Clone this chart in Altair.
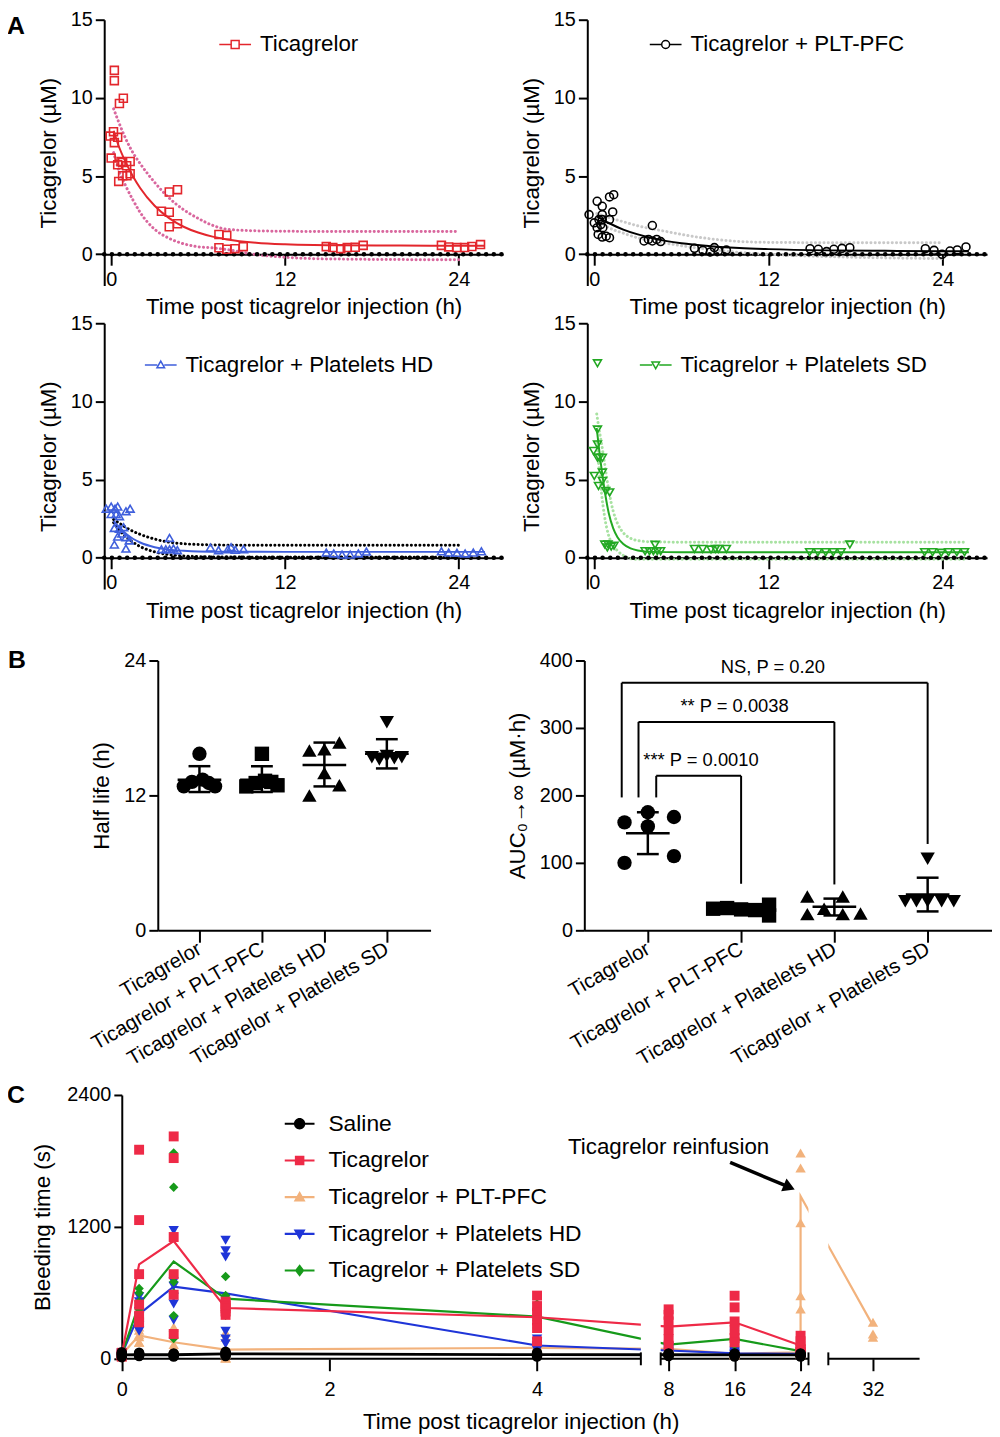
import altair as alt
import pandas as pd

W, H = 992, 1429
FONT = "Liberation Sans"

def X(px): return px - 6
def YA(py): return py - 3
def YB(py): return py - 5
def YC(py): return py - 7

# ---------------- Panel A data ----------------
a1_t = [0.22,0.22,0.57,0.84,0.16,-0.07,0.22,0.45,0.0,0.45,0.68,1.07,1.31,0.79,1.09,1.31,0.52,0.79,
        4.01,4.58,3.47,4.01,4.01,4.58, 7.44,7.98,7.44,7.98,8.55,9.12,
        14.85,15.3,15.85,16.3,16.85,17.4, 22.8,23.3,23.87,24.4,24.9,25.5]
a1_c = [11.76,11.1,9.64,9.98,7.84,7.56,7.14,7.48,6.15,5.72,5.93,5.66,5.93,5.02,5.02,5.15,4.66,5.87,
        3.98,4.13,2.75,2.69,1.76,1.95, 1.27,1.21,0.42,0.32,0.36,0.49,
        0.49,0.43,0.36,0.43,0.45,0.57, 0.57,0.47,0.43,0.43,0.5,0.62]
a1_fit_t = [0.17,0.5,1,1.5,2,3,4,5,6,7,8,10,12,14,16,20,24,25.8]
a1_fit_c = [7.9,6.97,5.89,4.99,4.24,3.10,2.31,1.76,1.39,1.13,0.95,0.74,0.64,0.59,0.57,0.555,0.55,0.55]
a1_band_t = [0.17,0.5,1,1.5,2,3,4,5,6,7,8,10,12,14,16,20,24]
a1_up = [9.3,8.5,7.4,6.5,5.8,4.6,3.6,2.85,2.3,1.85,1.6,1.5,1.47,1.46,1.45,1.45,1.45]
a1_lo = [6.5,5.44,4.38,3.48,2.68,1.6,1.02,0.67,0.48,0.41,0.3,-0.02,-0.19,-0.28,-0.31,-0.34,-0.35]

a2_t = [-0.36,0.2,0.55,1.05,1.34,1.27,0.55,0.0,0.32,0.55,1.05,0.2,0.59,0.27,0.55,0.82,1.05,0.45,
        4.0,3.43,3.73,4.0,4.3,4.57, 6.9,7.48,8.27,8.0,8.54,9.1,
        14.86,15.43,16.0,16.5,17.06,17.6, 22.8,23.4,23.95,24.5,25.0,25.6]
a2_c = [2.54,3.39,3.07,3.67,3.81,2.71,2.54,2.01,2.22,2.22,2.22,1.7,1.7,1.27,1.1,1.16,1.06,1.9,
        1.84,0.85,0.95,0.85,0.95,0.81, 0.38,0.25,0.43,0.15,0.21,0.27,
        0.36,0.32,0.17,0.32,0.38,0.42, 0.36,0.25,0.0,0.21,0.28,0.47]
a2_fit_t = [0.17,1,2,3,4,5,6,8,10,12,16,20,24,25.8]
a2_fit_c = [2.43,2.0,1.58,1.27,1.03,0.84,0.70,0.52,0.40,0.33,0.25,0.22,0.2,0.2]
a2_band_t = [0.17,1,2,3,4,5,6,8,10,12,16,20,24]
a2_up = [2.6,2.35,2.08,1.82,1.62,1.45,1.27,0.99,0.82,0.76,0.74,0.74,0.74]
a2_lo = [2.2,1.7,1.35,1.05,0.85,0.7,0.55,0.3,0.12,0.0,-0.15,-0.23,-0.28]

a3_t = [-0.34,0.0,0.27,0.45,0.0,0.34,0.57,1.02,1.31,0.22,0.57,0.86,0.45,1.02,1.25,0.22,1.02,0.73,
        4.03,3.47,3.77,4.03,4.3,4.57, 6.85,7.41,8.05,8.28,8.57,9.14,
        14.85,15.37,15.94,16.5,17.07,17.62, 22.8,23.3,23.87,24.44,25.0,25.56]
a3_c = [3.14,3.28,3.14,3.28,2.8,2.8,2.66,2.98,3.14,1.91,1.85,1.96,1.36,1.32,1.11,0.85,0.59,1.55,
        1.27,0.55,0.55,0.55,0.59,0.49, 0.66,0.49,0.55,0.68,0.51,0.55,
        0.34,0.28,0.21,0.21,0.28,0.4, 0.42,0.34,0.32,0.28,0.34,0.42]
a3_fit_t = [0.17,0.5,1,1.5,2,3,4,5,6,8,12,16,24,25.8]
a3_fit_c = [2.35,2.0,1.55,1.22,0.98,0.68,0.52,0.45,0.41,0.39,0.38,0.38,0.38,0.38]
a3_band_t = [0.17,0.5,1,1.5,2,3,4,5,6,8,12,16,24]
a3_up = [2.45,2.25,1.95,1.7,1.5,1.2,1.0,0.9,0.85,0.81,0.8,0.8,0.8]
a3_lo = [2.25,1.85,1.35,1.0,0.72,0.38,0.2,0.12,0.08,0.05,0.04,0.04,0.04]

a4_t = [0.22,0.22,0.22,-0.05,0.34,0.56,0.22,0.56,0.56,0.0,0.29,0.79,1.06,0.72,0.95,1.17,0.9,1.36,
        3.5,3.8,4.07,4.19,4.34,4.57, 6.9,7.47,8.04,8.34,8.56,9.1,
        14.83,15.4,15.94,16.46,17.0,17.6, 22.75,23.3,23.9,24.4,24.97,25.5]
a4_c = [12.44,8.2,7.25,6.83,6.4,6.4,6.4,5.45,4.92,5.24,4.6,4.28,4.18,0.85,0.85,0.72,0.66,0.78,
        0.42,0.42,0.42,0.83,0.42,0.42, 0.57,0.57,0.53,0.57,0.57,0.57,
        0.36,0.36,0.36,0.36,0.36,0.85, 0.36,0.36,0.32,0.36,0.36,0.36]
a4_fit_t = [0.17,0.3,0.5,0.7,1.0,1.3,1.6,2.0,2.5,3,4,6,12,24,25.8]
a4_fit_c = [8.3,7.2,5.7,4.4,2.85,1.9,1.32,0.88,0.6,0.47,0.38,0.35,0.35,0.35,0.35]
a4_band_t = [0.17,0.3,0.5,0.7,1.0,1.3,1.6,2.0,2.5,3,4,6,12,24,25.7]
a4_up = [9.2,8.4,7.3,6.1,4.3,3.0,2.2,1.6,1.25,1.1,1.02,1.0,1.0,1.0,1.0]
a4_lo = [7.4,6.0,4.1,2.7,1.4,0.8,0.45,0.15,-0.05,-0.1,-0.1,-0.1,-0.1,-0.1,-0.1]

# ---------------- Panel B data ----------------
b_groups = ["Ticagrelor", "Ticagrelor + PLT-PFC", "Ticagrelor + Platelets HD", "Ticagrelor + Platelets SD"]
b_shapes = ["circle", "square", "triangle-up", "triangle-down"]
hl_vals = [[12.8,13.2,15.7,13.4,13.1,12.8],[12.8,13.1,15.7,13.3,13.2,12.9],
           [16.0,16.1,16.7,14.0,12.0,12.9],[18.5,15.4,15.2,15.5,15.3,15.4]]
hl_jit = [[-0.25,-0.12,0.0,0.05,0.15,0.25],[-0.25,-0.1,0.0,0.05,0.15,0.25],
          [-0.24,0.0,0.24,0.0,-0.24,0.24],[0.0,-0.24,-0.12,0.0,0.12,0.24]]
hl_mean = [13.4,13.4,14.7,15.7]
hl_lo = [12.3,12.3,12.8,14.4]
hl_hi = [14.6,14.6,16.7,17.0]

auc_vals = [[160,175,154,168,100,110],[32,33,31,30,38,22],[50,24,32,50,24,25],[106,43,43,43,43,43]]
auc_jit = [[-0.25,0.0,0.0,0.28,-0.25,0.28],[-0.3,-0.15,0.0,0.15,0.3,0.3],
           [-0.29,-0.29,-0.11,0.09,0.09,0.28],[0.0,-0.24,-0.12,0.0,0.15,0.28]]
auc_mean = [144,32,35,53]
auc_lo = [113,27,22,28]
auc_hi = [175,37,47,78]

br_x_left = [-0.28,-0.1,0.09]
br_x_right = [3.0,2.0,1.0]
br_top = [367,309,229]
br_left_bottom = [197,197,197]
br_right_bottom = [128,68,69]
br_text = ["NS, P = 0.20", "** P = 0.0038", "*** P = 0.0010"]
br_text_x = [1.34,0.93,0.57]
br_text_y = [391,332,253]

# ---------------- Panel C data ----------------
c_times = [0, 0.167, 0.5, 1, 4, 8, 16, 24]
c_groups = ["Saline", "Ticagrelor", "Ticagrelor + PLT-PFC", "Ticagrelor + Platelets HD", "Ticagrelor + Platelets SD"]
c_colors = ["#000000", "#EE2A47", "#F2B27C", "#1F35D8", "#169A1A"]
c_shapes = ["circle", "square", "triangle-up", "triangle-down", "diamond"]
c_sizes = [110, 100, 110, 110, 90]
sal_pts = [[15,25,35,40,50,60],[25,30,40,45,50,55],[20,30,35,40,45,50],[25,35,45,50,55,65],
           [20,30,35,40,45,55],[25,30,35,40,45,50],[20,30,35,40,45,50],[20,30,35,40,45,50]]
tic_pts = [[20,30,40,45,50,55],[1902,1262,770,493,393,332],[2023,1826,1108,770,583,226],
           [520,500,480,460,430,400],[575,480,420,350,280,160],[450,400,340,260,180,120],
           [574,468,340,260,190,150],[210,160,120,90,80,60]]
pfc_pts = [[20,30,40,45,50,55],[290,260,220,200,150,150],[290,230,130,100,90,66],
           [242,197,40,10,10,5],[130,120,100,95,90,70],[120,100,90,85,80,70],
           [60,50,45,40,40,35],[80,70,60,55,50,45]]
pfc_post_t = [24,24,24,24,24,32,32,32]
pfc_post_v = [1872,1736,1238,574,453,332,226,196]
hd_pts = [[20,30,40,45,50,55],[565,520,430,380,300,250],[1168,700,660,560,498,350],
          [1078,982,927,250,180,136],[180,150,120,110,90,76],[110,90,80,70,60,46],
          [70,60,50,45,40,35],[65,55,45,40,35,30]]
sd_pts = [[20,30,40,45,50,55],[640,600,520,450,420,360],[1872,1561,700,600,393,185],
          [749,577,560,520,480,396],[500,450,400,350,320,280],[200,160,130,110,100,80],
          [260,220,180,160,140,126],[90,80,70,65,60,55]]
sal_line = [35,38,37,46,38,37,36,36]
tic_line = [40,860,1072,462,378,293,332,121]
pfc_line_t = [0,0.167,0.5,1,4,8,16,24,24,32]
pfc_line = [40,212,151,84,100,91,45,60,1480,302]
hd_line = [40,407,656,595,121,76,50,45]
sd_line = [40,498,885,547,384,130,181,70]
c_break_start = [0, 7.04, 26.59]
c_break_end = [5.0, 24.96, 37.65]
arrow_t = [15.46, 22.63]
arrow_v = [1786, 1561]


def axis(orient, offset, values, title, tick, **kw):
    base = dict(orient=orient, offset=offset, values=values, title=title, grid=False,
                tickSize=tick, tickWidth=2, domainWidth=2, domainColor="black", tickColor="black",
                labelColor="black", titleColor="black", labelFontSize=20, titleFontSize=22.5,
                titleFontWeight="normal", labelFlush=False, labelOverlap=False, labelLimit=400)
    base.update(kw)
    return alt.Axis(**base)


def letter_layer(ch, px, py):
    return alt.Chart(pd.DataFrame({"l": [ch]})).mark_text(
        fontSize=25, fontWeight="bold", align="center", baseline="middle", color="black"
    ).encode(text="l:N", x=alt.value(px), y=alt.value(py))


def panel_a(name, t, c, fit_t, fit_c, band_t, up, lo, color, band_color, shape, lpath,
            px0, px1, pytop, pybot, lx, ly, letter=None):
    xs = alt.Scale(domain=[-0.48, 27.05], range=[X(px0), X(px1)], nice=False, zero=False)
    ys = alt.Scale(domain=[-2, 15], range=[YA(pybot), YA(pytop)], nice=False, zero=False)
    y0 = pybot - 2 * (pybot - pytop) / 17
    xa = axis("bottom", YA(y0) - H, [0, 12, 24], "Time post ticagrelor injection (h)", 11,
              labelPadding=4, titlePadding=7)
    ya = axis("left", -X(px0), [0, 5, 10, 15], "Ticagrelor (µM)", 9, labelPadding=3, titlePadding=10)
    ex = lambda f: alt.X(f, type="quantitative", scale=xs, axis=xa)
    ey = lambda f: alt.Y(f, type="quantitative", scale=ys, axis=ya)

    band = pd.DataFrame({"t": band_t, "up": up, "lo": lo})
    fit = pd.DataFrame({"t": fit_t, "c": fit_c})
    pts = pd.DataFrame({"t": t, "c": c})
    base = pd.DataFrame({"x0": [-0.48], "x1": [27.05], "y": [0]})
    dot = dict(color=band_color, strokeWidth=3, strokeDash=[0.1, 4.2], strokeCap="round", interpolate="monotone")
    layers = [
        alt.Chart(band).mark_line(**dot).encode(x=ex("t"), y=ey("up")),
        alt.Chart(band).mark_line(**dot).encode(x=ex("t"), y=ey("lo")),
        alt.Chart(fit).mark_line(color=color, strokeWidth=2, interpolate="monotone").encode(x=ex("t"), y=ey("c")),
        alt.Chart(base).mark_rule(color="black", strokeWidth=4.5, strokeDash=[0.1, 7.6], strokeCap="round")
            .encode(x=ex("x0"), x2="x1", y=ey("y")),
        alt.Chart(pts).mark_point(shape=shape, filled=False, color=color, size=64, strokeWidth=1.6, opacity=1)
            .encode(x=ex("t"), y=ey("c")),
    ]
    leg = alt.Legend(title=None, orient="none", legendX=X(lx), legendY=YA(ly) - 16, symbolSize=1024,
                     symbolStrokeWidth=1.5, labelFontSize=22.5, labelOffset=8, labelColor="black",
                     padding=0, labelLimit=500)
    layers.append(
        alt.Chart(pd.DataFrame({"series": pd.Series([], dtype=str)})).mark_point(filled=False, opacity=1, strokeWidth=1.5)
        .encode(color=alt.Color("series:N", scale=alt.Scale(domain=[name], range=[color]), legend=leg),
                shape=alt.Shape("series:N", scale=alt.Scale(domain=[name], range=[lpath]), legend=leg))
    )
    if letter:
        layers.append(letter_layer(letter, X(14), YA(15)))
    return alt.layer(*layers)


def panel_b(vals, jit, means, lo, hi, ydomain, yvalues, ytitle, px0, px1, xdomain, extra=None, letter=None):
    xs = alt.Scale(domain=xdomain, range=[X(px0), X(px1)], nice=False, zero=False)
    ys = alt.Scale(domain=ydomain, range=[YB(929), YB(657)], nice=False, zero=False)
    names = "[" + ",".join("'%s'" % g for g in b_groups) + "]"
    xa = axis("bottom", YB(929) - H, [0, 1, 2, 3], None, 12, labelExpr=names + "[datum.value]",
              labelAngle=-30, labelAlign="right", labelBaseline="middle", labelFontSize=20.5, labelPadding=5)
    ya = axis("left", -X(px0), yvalues, ytitle, 9, labelPadding=3, titlePadding=10)
    ex = lambda f: alt.X(f, type="quantitative", scale=xs, axis=xa)
    ey = lambda f: alt.Y(f, type="quantitative", scale=ys, axis=ya)

    rows = []
    for gi, g in enumerate(b_groups):
        for v, j in zip(vals[gi], jit[gi]):
            rows.append({"grp": g, "x": gi + j, "v": v})
    pts = pd.DataFrame(rows)
    summ = pd.DataFrame({"g": list(range(4)), "mean": means, "lo": lo, "hi": hi})
    layers = [
        alt.Chart(summ).mark_rule(color="black", strokeWidth=2.5).encode(x=ex("g"), y=ey("lo"), y2="hi"),
        alt.Chart(summ).mark_tick(orient="horizontal", size=22, thickness=2.5, color="black", opacity=1)
            .encode(x=ex("g"), y=ey("lo")),
        alt.Chart(summ).mark_tick(orient="horizontal", size=22, thickness=2.5, color="black", opacity=1)
            .encode(x=ex("g"), y=ey("hi")),
        alt.Chart(pts).mark_point(filled=True, color="black", size=210, opacity=1)
            .encode(x=ex("x"), y=ey("v"),
                    shape=alt.Shape("grp:N", scale=alt.Scale(domain=b_groups, range=b_shapes), legend=None)),
        alt.Chart(summ).mark_tick(orient="horizontal", size=44, thickness=2.5, color="black", opacity=1)
            .encode(x=ex("g"), y=ey("mean")),
    ]
    if extra:
        layers += extra(ex, ey)
    if letter:
        layers.append(letter_layer(letter, X(15), YB(657)))
    return alt.layer(*layers)


def brackets(ex, ey):
    segs = []
    for i in range(3):
        segs.append({"x": br_x_left[i], "x2": br_x_left[i], "y": br_left_bottom[i], "y2": br_top[i]})
        segs.append({"x": br_x_left[i], "x2": br_x_right[i], "y": br_top[i], "y2": br_top[i]})
        segs.append({"x": br_x_right[i], "x2": br_x_right[i], "y": br_top[i], "y2": br_right_bottom[i]})
    sdf = pd.DataFrame(segs)
    tdf = pd.DataFrame({"x": br_text_x, "y": br_text_y, "txt": br_text})
    return [
        alt.Chart(sdf).mark_rule(color="black", strokeWidth=2).encode(x=ex("x"), x2="x2", y=ey("y"), y2="y2"),
        alt.Chart(tdf).mark_text(fontSize=18.5, color="black", align="center", baseline="middle")
            .encode(x=ex("x"), y=ey("y"), text="txt:N"),
    ]


def panel_c():
    xs = alt.Scale(domain=[0, 5.0, 7.04, 24.96, 26.59, 37.65],
                   range=[X(120.7), X(644), X(664), X(813), X(833), X(925)], nice=False, zero=False)
    ys = alt.Scale(domain=[0, 2400], range=[YC(1363), YC(1097)], nice=False, zero=False)
    xa = axis("bottom", YC(1363) - H, [0, 2, 4, 8, 16, 24, 32], "Time post ticagrelor injection (h)", 12,
              domain=False, labelPadding=9, titlePadding=11)
    ya = axis("left", -X(120.7), [0, 1200, 2400], "Bleeding time (s)", 8, labelPadding=3, titlePadding=12,
              format="d")
    ex = lambda f: alt.X(f, type="quantitative", scale=xs, axis=xa)
    ey = lambda f: alt.Y(f, type="quantitative", scale=ys, axis=ya)

    line_series = {
        "Saline": (c_times, sal_line), "Ticagrelor": (c_times, tic_line),
        "Ticagrelor + PLT-PFC": (pfc_line_t, pfc_line),
        "Ticagrelor + Platelets HD": (c_times, hd_line), "Ticagrelor + Platelets SD": (c_times, sd_line),
    }
    pts_series = {"Saline": sal_pts, "Ticagrelor": tic_pts, "Ticagrelor + PLT-PFC": pfc_pts,
                  "Ticagrelor + Platelets HD": hd_pts, "Ticagrelor + Platelets SD": sd_pts}
    layers = []
    order = [2, 3, 4, 1, 0]
    for gi in order:
        g = c_groups[gi]
        tt, vv = line_series[g]
        df = pd.DataFrame({"t": tt, "v": vv, "seq": list(range(len(tt)))})
        layers.append(alt.Chart(df).mark_line(color=c_colors[gi], strokeWidth=2.2 if gi else 2.8)
                      .encode(x=ex("t"), y=ey("v"), order="seq:Q"))
    gaps = pd.DataFrame({"a": [c_break_end[0], c_break_end[1]], "b": [c_break_start[1], c_break_start[2]],
                         "y0": [-30, -30], "y1": [2400, 2400]})
    layers.append(alt.Chart(gaps).mark_rect(color="white", opacity=1).encode(x=ex("a"), x2="b", y=ey("y0"), y2="y1"))
    segs = pd.DataFrame({"a": c_break_start, "b": c_break_end, "y": [0, 0, 0]})
    layers.append(alt.Chart(segs).mark_rule(color="black", strokeWidth=2).encode(x=ex("a"), x2="b", y=ey("y")))
    caps = pd.DataFrame({"t": [c_break_end[0], c_break_start[1], c_break_end[1], c_break_start[2]], "y": [0, 0, 0, 0]})
    layers.append(alt.Chart(caps).mark_tick(orient="vertical", size=13, thickness=2, color="black", opacity=1)
                  .encode(x=ex("t"), y=ey("y")))
    for gi in order:
        g = c_groups[gi]
        rows = []
        for ti, t in enumerate(c_times):
            for v in pts_series[g][ti]:
                rows.append({"t": t, "v": v})
        if g == "Ticagrelor + PLT-PFC":
            for t, v in zip(pfc_post_t, pfc_post_v):
                rows.append({"t": t, "v": v})
        df = pd.DataFrame(rows)
        layers.append(alt.Chart(df).mark_point(shape=c_shapes[gi], filled=True, color=c_colors[gi],
                                               size=c_sizes[gi], opacity=1, strokeWidth=0)
                      .encode(x=ex("t"), y=ey("v")))
    adf = pd.DataFrame({"t": [arrow_t[0]], "t2": [arrow_t[1]], "v": [arrow_v[0]], "v2": [arrow_v[1]]})
    layers.append(alt.Chart(adf).mark_rule(color="black", strokeWidth=3.5).encode(x=ex("t"), x2="t2", y=ey("v"), y2="v2"))
    hdf = pd.DataFrame({"t": [arrow_t[1]], "v": [arrow_v[1]]})
    layers.append(alt.Chart(hdf).mark_point(shape="triangle-right", filled=True, color="black", size=190,
                                            angle=23, opacity=1).encode(x=ex("t"), y=ey("v")))
    tdf = pd.DataFrame({"t": [8.0], "v": [1926], "txt": ["Ticagrelor reinfusion"]})
    layers.append(alt.Chart(tdf).mark_text(fontSize=22.5, color="black", align="center", baseline="middle")
                  .encode(x=ex("t"), y=ey("v"), text="txt:N"))

    ln = "M-1,-0.07H1V0.07H-1Z"
    paths = [ln + "M0.38,0A0.38,0.38,0,1,1,-0.38,0A0.38,0.38,0,1,1,0.38,0Z",
             ln + "M-0.32,-0.32H0.32V0.32H-0.32Z",
             ln + "M0,-0.42L0.4,0.3H-0.4Z",
             ln + "M0,0.42L-0.4,-0.3H0.4Z",
             ln + "M0,-0.42L0.32,0L0,0.42L-0.32,0Z"]
    leg = alt.Legend(title=None, orient="none", legendX=X(285), legendY=YC(1123) - 12, symbolSize=900,
                     symbolStrokeWidth=0, labelFontSize=23, labelOffset=14, labelColor="black",
                     rowPadding=10, padding=0, labelLimit=500)
    layers.append(
        alt.Chart(pd.DataFrame({"series": pd.Series([], dtype=str)})).mark_point(filled=True, opacity=1)
        .encode(color=alt.Color("series:N", scale=alt.Scale(domain=c_groups, range=c_colors), legend=leg),
                shape=alt.Shape("series:N", scale=alt.Scale(domain=c_groups, range=paths), legend=leg))
    )
    layers.append(letter_layer("C", X(14), YC(1097)))
    return alt.layer(*layers)


sq = "M-1,0H-0.25M0.25,0H1M-0.25,-0.25H0.25V0.25H-0.25Z"
ci = "M-1,0H-0.25M0.25,0H1M0.25,0A0.25,0.25,0,1,1,-0.25,0A0.25,0.25,0,1,1,0.25,0"
tu = "M-1,0H-0.22M0.22,0H1M0,-0.24L0.24,0.18H-0.24Z"
td = "M-1,0H-0.22M0.22,0H1M0,0.24L0.24,-0.18H-0.24Z"

pA1 = panel_a("Ticagrelor", a1_t, a1_c, a1_fit_t, a1_fit_c, a1_band_t, a1_up, a1_lo,
              "#E3262C", "#D9679E", "square", sq, 103, 505, 9, 277, 218, 33, letter="A")
pA2 = panel_a("Ticagrelor + PLT-PFC", a2_t, a2_c, a2_fit_t, a2_fit_c, a2_band_t, a2_up, a2_lo,
              "#000000", "#C9C9C9", "circle", ci, 590, 993, 9, 277, 652, 33)
pA3 = panel_a("Ticagrelor + Platelets HD", a3_t, a3_c, a3_fit_t, a3_fit_c, a3_band_t, a3_up, a3_lo,
              "#3F5FDC", "#000000", "triangle-up", tu, 103, 505, 315, 583, 143, 356)
pA4 = panel_a("Ticagrelor + Platelets SD", a4_t, a4_c, a4_fit_t, a4_fit_c, a4_band_t, a4_up, a4_lo,
              "#22A822", "#A8E2A2", "triangle-down", td, 590, 993, 315, 583, 642, 356)
pB1 = panel_b(hl_vals, hl_jit, hl_mean, hl_lo, hl_hi, [0, 24], [0, 12, 24], "Half life (h)",
              157, 432, [-0.667, 3.70], letter="B")
pB2 = panel_b(auc_vals, auc_jit, auc_mean, auc_lo, auc_hi, [0, 400], [0, 100, 200, 300, 400],
              "AUC₀→∞ (µM·h)", 587, 998, [-0.681, 3.69], extra=brackets)
pC = panel_c()

chart = alt.layer(pA1, pA2, pA3, pA4, pB1, pB2, pC).resolve_scale(
    x="independent", y="independent", color="independent", shape="independent"
).properties(
    width=W, height=H, autosize=alt.AutoSizeParams(type="none"), padding=0
).configure(font=FONT).configure_view(strokeWidth=0)

chart.save("out.html", embed_options={"renderer": "svg", "actions": False})
